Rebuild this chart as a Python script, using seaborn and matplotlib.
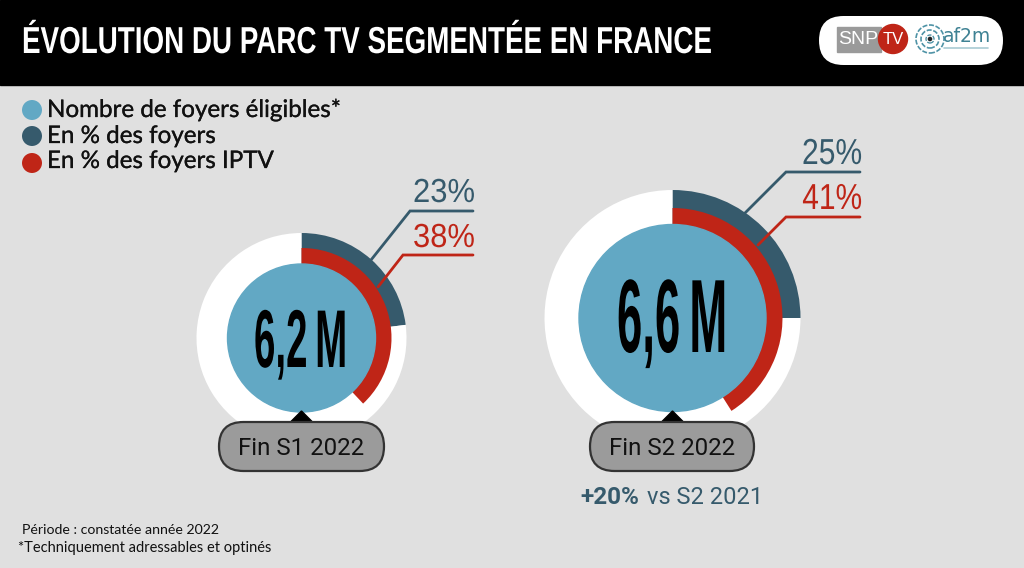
import matplotlib
matplotlib.use("Agg")
import matplotlib.pyplot as plt
import matplotlib.patheffects as pe
from matplotlib.patches import Circle, FancyBboxPatch, Polygon, Rectangle
from matplotlib.transforms import Affine2D
import seaborn as sns

# ---- Data ----
periods = ["Fin S1 2022", "Fin S2 2022"]
foyers_labels = ["6,2\u2009M", "6,6\u2009M"]
pct_foyers = [23, 25]
pct_iptv = [38, 41]
legend_labels = ["Nombre de foyers éligibles*", "En % des foyers", "En % des foyers IPTV"]

BG = "#e0e0e0"
BLUE = "#62a8c4"
DARK = "#365a6c"
RED = "#bf2517"
H = 568
SANS = "Liberation Sans"


class StretchY(pe.AbstractPathEffect):
    # no condensed font installed: stretch the glyphs upward from the baseline instead
    def __init__(self, sy, y0):
        super().__init__()
        self.sy, self.y0 = sy, y0

    def draw_path(self, renderer, gc, tpath, affine, rgbFace=None):
        extra = Affine2D().translate(0, -self.y0).scale(1, self.sy).translate(0, self.y0)
        renderer.draw_path(gc, tpath, affine + extra, rgbFace)


def Y(y):
    return H - y


def fit(txt, width, cap_h, baseline):
    # font size from the wanted width, vertical stretch from the wanted cap height
    w = txt.get_window_extent(fig.canvas.get_renderer()).width
    size = txt.get_fontsize() * width / w
    txt.set_fontsize(size)
    txt.set_path_effects([StretchY(cap_h / (0.72 * size * 100 / 72), Y(baseline))])


sns.set_theme(style="white", rc={"axes.facecolor": BG, "figure.facecolor": BG})
fig = plt.figure(figsize=(10.24, 5.68), dpi=100)
ax = fig.add_axes([0, 0, 1, 1])
ax.axis("off")

# header band
ax.add_patch(Rectangle((0, Y(85)), 1024, 85, color="black", zorder=1))
title = ax.text(22, Y(53), "ÉVOLUTION DU PARC TV SEGMENTÉE EN FRANCE", color="white", fontsize=20,
                fontweight="bold", family=SANS, va="baseline", zorder=2)
fit(title, 689, 27, 53)

# logo
ax.add_patch(FancyBboxPatch((819, Y(65)), 184, 49, boxstyle="round,pad=0,rounding_size=24.5",
                            fc="white", ec="none", zorder=2))
ax.add_patch(Rectangle((837, Y(52)), 44, 25, color="#9a9a9a", zorder=3))
ax.text(858, Y(39), "SNP", color="white", fontsize=14, family=SANS, ha="center", va="center", zorder=4)
ax.add_patch(Circle((893, Y(39)), 14.5, color=RED, zorder=4))
ax.text(893, Y(39), "TV", color="white", fontsize=12, family=SANS, ha="center", va="center", zorder=5)
for r, lw in [(14, 1.2), (9, 1.2), (4, 1.0)]:
    ax.add_patch(Circle((930, Y(39)), r, fc="none", ec="#4f93a6", lw=lw, ls=(0, (3, 1)), zorder=3))
ax.add_patch(Circle((930, Y(39)), 1.6, color="#222222", zorder=4))
ax.text(943, Y(36), "af2m", color="#3f8294", fontsize=13.5, ha="left", va="center", zorder=3)
ax.plot([944, 988], [Y(48), Y(48)], color="#a9cbd3", lw=1.2, zorder=3)

# legend dots through seaborn
sns.scatterplot(x=[32, 32, 32], y=[Y(110), Y(136), Y(163)], hue=legend_labels,
                palette=[BLUE, DARK, RED], s=207, linewidth=0, legend=False, ax=ax, zorder=3)
for lab, yy in zip(legend_labels, [117, 143, 168]):
    ax.text(47, Y(yy), lab, color="#111111", fontsize=17.4, family="Lato", va="baseline", ha="left",
            path_effects=[pe.withStroke(linewidth=0.2, foreground="#111111")])

# rings
centers = [(301.5, 338), (672.5, 318)]
r_outer = [105, 128]
r_red = [90, 110]
r_blue = [74, 93.5]
for i in range(2):
    cx, cy = centers[i]
    ax.pie([pct_foyers[i], 100 - pct_foyers[i]], colors=[DARK, "white"], center=(cx, Y(cy)),
           radius=r_outer[i], startangle=90, counterclock=False, frame=True,
           wedgeprops={"linewidth": 0, "zorder": 2})
    ax.pie([pct_iptv[i], 100 - pct_iptv[i]], colors=[RED, "none"], center=(cx, Y(cy)),
           radius=r_red[i], startangle=90, counterclock=False, frame=True,
           wedgeprops={"linewidth": 0, "zorder": 3})
    ax.add_patch(Circle((cx, Y(cy)), r_blue[i], color=BLUE, zorder=4))

ax.set_xlim(0, 1024)
ax.set_ylim(0, H)
ax.axis("off")

# big numbers in the circles
big_left = [254, 617]
big_w = [93, 110]
big_cap = [59, 75]
big_base = [367, 352]
for i in range(2):
    t = ax.text(big_left[i], Y(big_base[i]), foyers_labels[i], color="black", fontsize=30,
                fontweight="bold", family=SANS, ha="left", va="baseline", zorder=6)
    fit(t, big_w[i], big_cap[i], big_base[i])

# leader lines and percent labels
line_dark = [[(371, 260), (410, 211), (473, 211)], [(745, 213), (786, 172), (860, 172)]]
line_red = [[(378, 287), (403, 255), (473, 255)], [(758, 245), (786, 217), (860, 217)]]
text_x = [475, 862]
text_w = [62, 60]
text_cap = [24, 26]
dark_base = [202, 164]
red_base = [247, 209]
for i in range(2):
    for pts, col in [(line_dark[i], DARK), (line_red[i], RED)]:
        ax.plot([p[0] for p in pts], [Y(p[1]) for p in pts], color=col, lw=2, zorder=5,
                solid_joinstyle="miter")
    t1 = ax.text(text_x[i], Y(dark_base[i]), f"{pct_foyers[i]}%", color=DARK, fontsize=22, family=SANS,
                 ha="right", va="baseline")
    t2 = ax.text(text_x[i], Y(red_base[i]), f"{pct_iptv[i]}%", color=RED, fontsize=22, family=SANS,
                 ha="right", va="baseline")
    fit(t1, text_w[i], text_cap[i], dark_base[i])
    fit(t2, text_w[i], text_cap[i], red_base[i])

# period pills
pill_x = [219, 590]
pill_w = [165, 164]
for i in range(2):
    cx = centers[i][0]
    ax.add_patch(Polygon([(cx - 11, Y(422)), (cx + 11, Y(422)), (cx, Y(411))], color="black", zorder=5))
    ax.add_patch(FancyBboxPatch((pill_x[i], Y(471)), pill_w[i], 49,
                                boxstyle="round,pad=0,rounding_size=24.5", fc="#9b9b9b", ec="#333333",
                                lw=1.6, zorder=6))
    ax.text(cx, Y(455), periods[i], color="#111111", fontsize=17.3, family="Roboto", ha="center",
            va="baseline", zorder=7)

# note under the second ring
ax.text(580, Y(504), "+20%", color=DARK, fontsize=17.5, fontweight="bold", family="Roboto", va="baseline")
ax.text(647, Y(504), "vs S2 2021", color=DARK, fontsize=17, family="Roboto", va="baseline")

# footer
ax.text(22, Y(530), "Période : constatée année 2022", color="#111111", fontsize=10.2, family="Lato", va="center")
ax.text(18, Y(548), "*Techniquement adressables et optinés", color="#111111", fontsize=10.5, family="Lato", va="center")

fig.savefig("out.png", dpi=100, facecolor=BG)
